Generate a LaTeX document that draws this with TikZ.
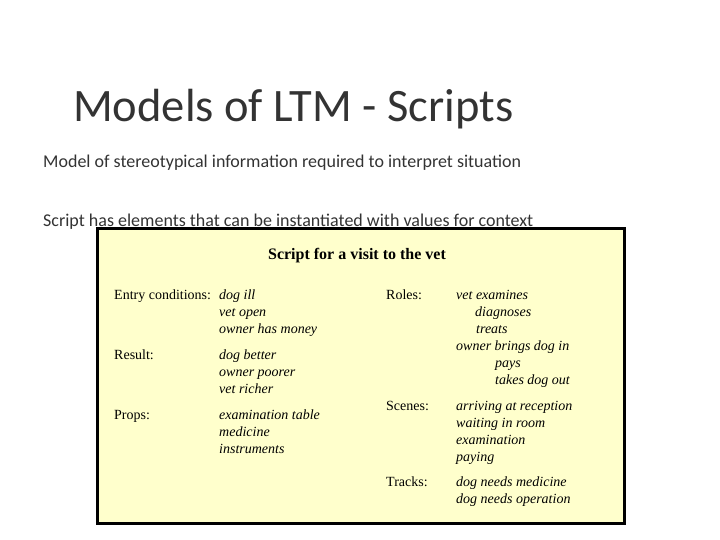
\documentclass[tikz,border=0pt]{standalone}
\usepackage{fontspec}
\setmainfont{Liberation Serif}
\newfontfamily\carlfont{Carlito}
\definecolor{boxy}{HTML}{FFFFCC}
\begin{document}
\begin{tikzpicture}[x=1pt,y=-1pt,
 lab/.style={anchor=base west,inner sep=0pt,font=\fontsize{14}{16}\selectfont},
 val/.style={anchor=base west,inner sep=0pt,font=\fontsize{14}{16}\selectfont\itshape},
 body/.style={anchor=base west,inner sep=0pt,font=\carlfont\fontsize{18}{21}\selectfont,text=black!80}]
\useasboundingbox (0,0) rectangle (720,540);
\node[anchor=base west,inner sep=0pt,font=\carlfont\fontsize{46.5}{54}\selectfont,text=black!80] (t) at (73,122) {Models of LTM - Scripts};
\node[body] (b1) at (43,168) {Model of stereotypical information required to interpret situation};
\node[body] (b2) at (43,226) {Script has elements that can be instantiated with values for context};
\node[draw=black,line width=3pt,fill=boxy,minimum width=527,minimum height=294,inner sep=0pt] (box) at (360.5,376) {};
\node[anchor=base,inner sep=0pt,font=\fontsize{16}{18}\selectfont\bfseries] (h) at (357,259) {Script for a visit to the vet};
\node[lab] (l1) at (114,299) {Entry conditions:};
\node[val] (v1) at (219,299) {dog ill};
\node[val] (v2) at (219,316) {vet open};
\node[val] (v3) at (219,333) {owner has money};
\node[lab] (l2) at (114,359) {Result:};
\node[val] (v4) at (219,359) {dog better};
\node[val] (v5) at (219,376) {owner poorer};
\node[val] (v6) at (219,393) {vet richer};
\node[lab] (l3) at (114,419) {Props:};
\node[val] (v7) at (219,419) {examination table};
\node[val] (v8) at (219,436) {medicine};
\node[val] (v9) at (219,453) {instruments};
\node[lab] (r1) at (386,299) {Roles:};
\node[val] (w1) at (456,299) {vet examines};
\node[val] (w2) at (475,316) {diagnoses};
\node[val] (w3) at (476,333) {treats};
\node[val] (w4) at (456,350) {owner brings dog in};
\node[val] (w5) at (495,367) {pays};
\node[val] (w6) at (495,384) {takes dog out};
\node[lab] (r2) at (386,410) {Scenes:};
\node[val] (w7) at (456,410) {arriving at reception};
\node[val] (w8) at (456,427) {waiting in room};
\node[val] (w9) at (456,444) {examination};
\node[val] (w10) at (456,461) {paying};
\node[lab] (r3) at (386,486) {Tracks:};
\node[val] (w11) at (456,486) {dog needs medicine};
\node[val] (w12) at (456,503) {dog needs operation};
\end{tikzpicture}
\end{document}
